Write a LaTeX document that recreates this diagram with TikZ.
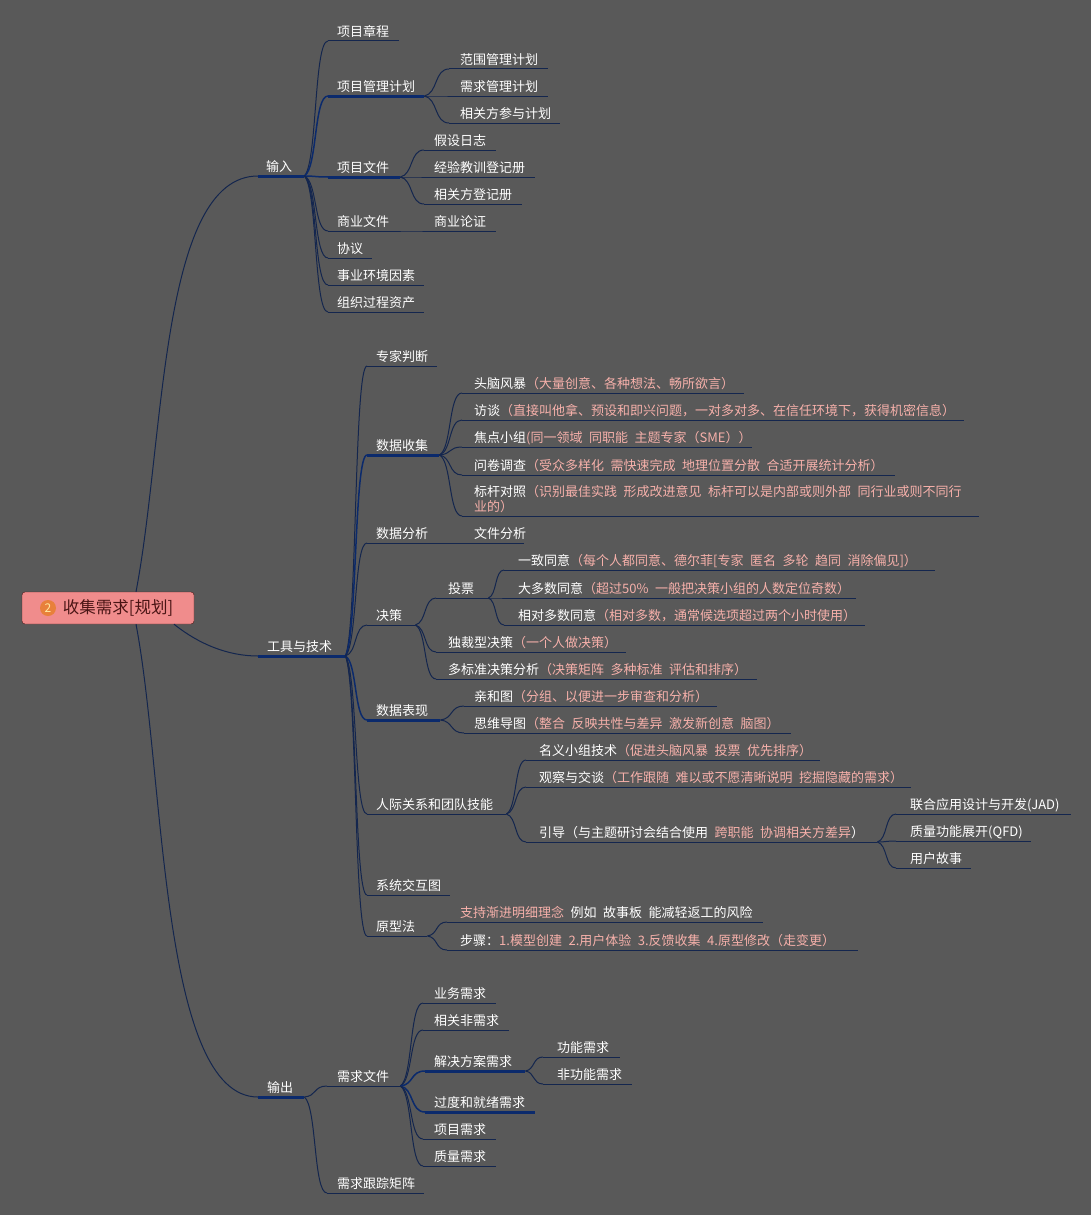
\documentclass[tikz,border=0pt]{standalone}
\usepackage{fontspec}
\setmainfont{Noto Sans CJK SC}
\usepackage{tikz}
\usetikzlibrary{calc}

\definecolor{canvas}{HTML}{595959}
\definecolor{notepink}{HTML}{F6B0AA}
\definecolor{thinblue}{HTML}{14264E}
\definecolor{hubblue}{HTML}{0B2A6C}
\definecolor{rootpink}{HTML}{F08C8C}
\definecolor{rootdark}{HTML}{4A1515}
\definecolor{badgefill}{HTML}{E8803A}
\definecolor{badgetext}{HTML}{FFE9A0}
\newcommand{\pk}[1]{\textcolor{notepink}{#1}}

\begin{document}
\begin{tikzpicture}[
  x=1pt, y=-1pt,
  base/.style 2 args={anchor=south west, inner xsep=#1pt, inner ysep=4.5pt,
                      /utils/exec={\pgfmathsetlengthmacro\boxwd{#2pt-2*#1pt}},
                      text width=\boxwd, text depth=0pt, align=left, text=white,
                      execute at begin node={\spaceskip=6.5pt\relax},
                      font=\fontsize{13}{15}\selectfont},
  topic/.style 2 args={base={#1}{#2}, append after command={
      (\tikzlastnode.south west) edge[draw=thinblue, line width=1pt] (\tikzlastnode.south east)}},
  hub/.style 2 args={base={#1}{#2}, append after command={
      (\tikzlastnode.south west) edge[draw=hubblue, line width=3pt] (\tikzlastnode.south east)}},
  tree/.style={draw=thinblue, line width=1pt, to path={let \p1=(\tikztostart), \p2=(\tikztotarget) in
      .. controls ({\x1+0.55*(\x2-\x1)},{\y1+0.1*(\y2-\y1)}) and ({\x1+0.4*(\x2-\x1)},\y2) .. (\tikztotarget)}},
  hubtree/.style={tree, draw=hubblue, line width=1.5pt},
  rootbox/.style={draw=rootdark, fill=rootpink, rounded corners=3pt, text=rootdark,
                  minimum width=172pt, minimum height=32pt, inner sep=0pt,
                  font=\fontsize{16.5}{18}\selectfont},
  badge/.style={circle, fill=badgefill, text=badgetext, minimum size=16pt, inner sep=0pt,
                font=\fontsize{12}{13}\selectfont},
]
\useasboundingbox (0,0) rectangle (1091,1215);
\fill[canvas] (0,0) rectangle (1091,1215);

% Root
\node[rootbox] (root) at (108,608) {\hspace{20pt}收集需求[规划]};
\node[badge] (num) at (48,608) {2};
\coordinate (rootup) at ($(root.north)+(28,0)$);
\coordinate (rootdown) at ($(root.south)+(28,0)$);
\coordinate (rootmid) at ($(root.south)+(66,0)$);

% Level 1
\node[hub={8}{46}] (input) at (258,176) {输入};
\node[hub={9}{87}] (tools) at (258,656) {工具与技术};
\node[hub={9}{46}] (output) at (258,1097) {输出};

% Inputs
\node[topic={9}{71}] (charter) at (328,41) {项目章程};
\node[hub={9}{96}] (plan) at (328,96) {项目管理计划};
\node[topic={11}{99}] (scope) at (449,69) {范围管理计划};
\node[topic={11}{99}] (reqplan) at (449,96) {需求管理计划};
\node[topic={11}{111}] (stakeplan) at (449,123) {相关方参与计划};
\node[hub={9}{72}] (docs) at (328,177) {项目文件};
\node[topic={10}{72}] (assume) at (424,150) {假设日志};
\node[topic={10}{111}] (lessons) at (424,177) {经验教训登记册};
\node[topic={10}{98}] (stakereg) at (424,204) {相关方登记册};
\node[topic={9}{70}] (bizdocs) at (328,231) {商业文件};
\node[topic={10}{72}] (bizcase) at (424,231) {商业论证};
\node[topic={9}{44}] (agree) at (328,258) {协议};
\node[topic={9}{96}] (eef) at (328,285) {事业环境因素};
\node[topic={9}{96}] (opa) at (328,312) {组织过程资产};

% Tools
\node[topic={9}{70}] (expert) at (367,366) {专家判断};
\node[hub={9}{72}] (collect) at (367,455) {数据收集};
\node[topic={12}{282}] (brain) at (462,393) {头脑风暴\pk{（大量创意、各种想法、畅所欲言）}};
\node[topic={12}{502}] (interview) at (462,420) {访谈\pk{（直接叫他拿、预设和即兴问题，一对多对多、在信任环境下，获得机密信息）}};
\node[topic={12}{290}] (focus) at (462,447) {焦点小组\pk{(同一领域~同职能~主题专家（SME））}};
\node[topic={12}{433}] (survey) at (462,475) {问卷调查\pk{（受众多样化~需快速完成~地理位置分散~合适开展统计分析）}};
\node[topic={12}{517}, text depth=15pt] (bench) at (462,516) {标杆对照\pk{（识别最佳实践~形成改进意见~标杆可以是内部或则外部~同行业或则不同行\\业的）}};
\node[topic={9}{96}] (analysis) at (367,543) {数据分析};
\node[topic={11}{61}] (docana) at (463,543) {文件分析};
\node[topic={9}{48}] (decide) at (367,625) {决策};
\node[topic={12}{52}] (vote) at (436,598) {投票};
\node[topic={14}{431}] (unan) at (504,570) {一致同意\pk{（每个人都同意、德尔菲[专家~匿名~多轮~趋同~消除偏见]）}};
\node[topic={14}{352}] (major) at (504,598) {大多数同意\pk{（超过50\%~一般把决策小组的人数定位奇数）}};
\node[topic={14}{361}] (plural) at (504,625) {相对多数同意\pk{（相对多数，通常候选项超过两个小时使用）}};
\node[topic={12}{190}] (autoc) at (436,652) {独裁型决策\pk{（一个人做决策）}};
\node[topic={12}{321}] (multi) at (436,679) {多标准决策分析\pk{（决策矩阵~多种标准~评估和排序）}};
\node[hub={9}{73}] (repres) at (367,720) {数据表现};
\node[topic={10}{253}] (affin) at (464,706) {亲和图\pk{（分组、以便进一步审查和分析）}};
\node[topic={10}{327}] (mindmap) at (464,733) {思维导图\pk{（整合~反映共性与差异~激发新创意~脑图）}};
\node[topic={9}{139}] (people) at (367,814) {人际关系和团队技能};
\node[topic={13}{294}] (nominal) at (526,760) {名义小组技术\pk{（促进头脑风暴~投票~优先排序）}};
\node[topic={13}{385}] (observe) at (526,787) {观察与交谈\pk{（工作跟随~难以或不愿清晰说明~挖掘隐藏的需求）}};
\node[topic={13}{351}] (facil) at (526,842) {引导（与主题研讨会结合使用~\pk{跨职能~协调相关方差异}）};
\node[topic={14}{175}] (jad) at (896,814) {联合应用设计与开发(JAD)};
\node[topic={14}{135}] (qfd) at (896,841) {质量功能展开(QFD)};
\node[topic={14}{75}] (story) at (896,868) {用户故事};
\node[topic={9}{83}] (context) at (367,895) {系统交互图};
\node[topic={9}{60}] (proto) at (367,936) {原型法};
\node[topic={13}{316}] (iter) at (447,922) {\pk{支持渐进明细理念}~例如~故事板~能减轻返工的风险};
\node[topic={13}{411}] (steps) at (447,950) {步骤：\pk{1.模型创建~2.用户体验~3.反馈收集~4.原型修改（走变更）}};

% Outputs
\node[topic={10}{73}] (reqdoc) at (327,1086) {需求文件};
\node[topic={11}{73}] (bizreq) at (423,1003) {业务需求};
\node[topic={11}{86}] (stakereq) at (423,1030) {相关非需求};
\node[hub={9}{100}] (solreq) at (425,1071) {解决方案需求};
\node[topic={14}{77}] (funcreq) at (543,1057) {功能需求};
\node[topic={14}{89}] (nonfunc) at (543,1084) {非功能需求};
\node[hub={9}{110}] (transreq) at (425,1112) {过度和就绪需求};
\node[topic={11}{73}] (projreq) at (423,1139) {项目需求};
\node[topic={11}{73}] (qualreq) at (423,1166) {质量需求};
\node[topic={10}{97}] (matrix) at (327,1193) {需求跟踪矩阵};

% Edges from root
\draw[draw=thinblue, line width=1pt] (rootup) .. controls +(29,-152) and +(-98,0) .. (input.south west);
\draw[draw=thinblue, line width=1pt] (rootdown) .. controls +(29,152) and +(-98,0) .. (output.south west);
\draw[draw=thinblue, line width=1pt] (rootmid) .. controls +(25,20) and +(-30,0) .. (tools.south west);

% Edges of inputs
\draw[tree] (input.south east) to (charter.south west);
\draw[hubtree] (input.south east) to (plan.south west);
\draw[hubtree] (input.south east) to (docs.south west);
\draw[tree] (input.south east) to (bizdocs.south west);
\draw[tree] (input.south east) to (agree.south west);
\draw[tree] (input.south east) to (eef.south west);
\draw[tree] (input.south east) to (opa.south west);
\draw[tree] (plan.south east) to (scope.south west);
\draw[tree] (plan.south east) to (reqplan.south west);
\draw[tree] (plan.south east) to (stakeplan.south west);
\draw[tree] (docs.south east) to (assume.south west);
\draw[tree] (docs.south east) to (lessons.south west);
\draw[tree] (docs.south east) to (stakereg.south west);
\draw[tree] (bizdocs.south east) to (bizcase.south west);

% Edges of tools
\draw[tree] (tools.south east) to (expert.south west);
\draw[hubtree] (tools.south east) to (collect.south west);
\draw[tree] (tools.south east) to (analysis.south west);
\draw[tree] (tools.south east) to (decide.south west);
\draw[hubtree] (tools.south east) to (repres.south west);
\draw[tree] (tools.south east) to (people.south west);
\draw[tree] (tools.south east) to (context.south west);
\draw[tree] (tools.south east) to (proto.south west);
\draw[tree] (collect.south east) to (brain.south west);
\draw[tree] (collect.south east) to (interview.south west);
\draw[tree] (collect.south east) to (focus.south west);
\draw[tree] (collect.south east) to (survey.south west);
\draw[tree] (collect.south east) to (bench.south west);
\draw[tree] (analysis.south east) to (docana.south west);
\draw[tree] (decide.south east) to (vote.south west);
\draw[tree] (decide.south east) to (autoc.south west);
\draw[tree] (decide.south east) to (multi.south west);
\draw[tree] (vote.south east) to (unan.south west);
\draw[tree] (vote.south east) to (major.south west);
\draw[tree] (vote.south east) to (plural.south west);
\draw[tree] (repres.south east) to (affin.south west);
\draw[tree] (repres.south east) to (mindmap.south west);
\draw[tree] (people.south east) to (nominal.south west);
\draw[tree] (people.south east) to (observe.south west);
\draw[tree] (people.south east) to (facil.south west);
\draw[tree] (facil.south east) to (jad.south west);
\draw[tree] (facil.south east) to (qfd.south west);
\draw[tree] (facil.south east) to (story.south west);
\draw[tree] (proto.south east) to (iter.south west);
\draw[tree] (proto.south east) to (steps.south west);

% Edges of outputs
\draw[tree] (output.south east) to (reqdoc.south west);
\draw[tree] (output.south east) to (matrix.south west);
\draw[tree] (reqdoc.south east) to (bizreq.south west);
\draw[tree] (reqdoc.south east) to (stakereq.south west);
\draw[hubtree] (reqdoc.south east) to (solreq.south west);
\draw[hubtree] (reqdoc.south east) to (transreq.south west);
\draw[tree] (reqdoc.south east) to (projreq.south west);
\draw[tree] (reqdoc.south east) to (qualreq.south west);
\draw[tree] (solreq.south east) to (funcreq.south west);
\draw[tree] (solreq.south east) to (nonfunc.south west);
\end{tikzpicture}
\end{document}
